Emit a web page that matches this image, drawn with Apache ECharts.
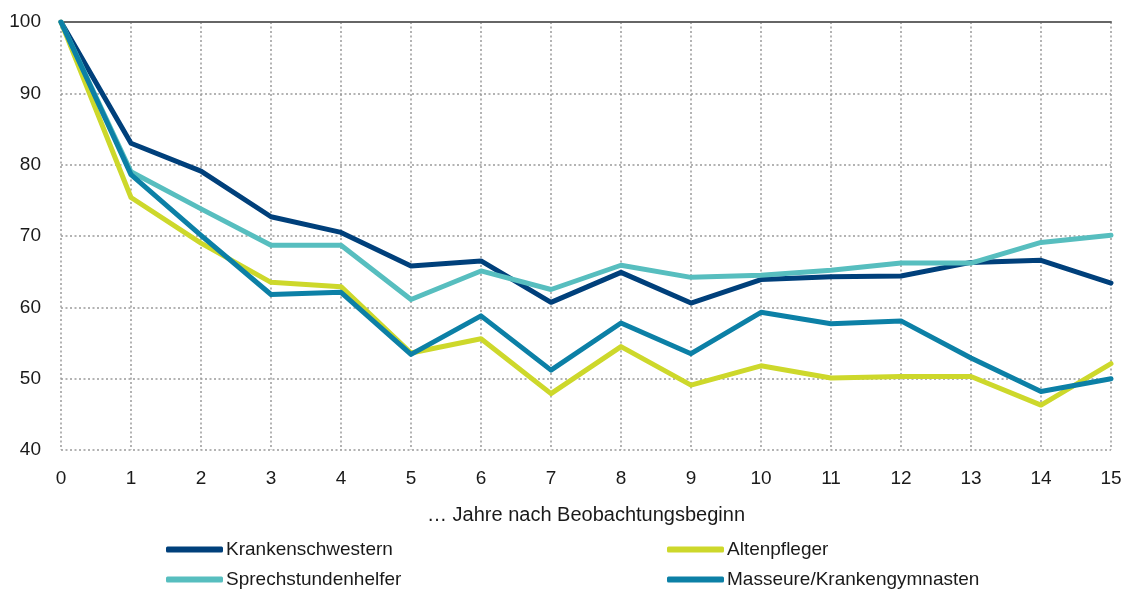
<!DOCTYPE html>
<html>
<head>
<meta charset="utf-8">
<script src="https://cdn.jsdelivr.net/npm/echarts@6/dist/echarts.min.js"></script>
<style>
  html, body { margin: 0; padding: 0; background: #fff; }
  #chart { width: 1126px; height: 589px; }
</style>
</head>
<body>
<div id="chart"></div>
<script>
    // Jahre nach Beobachtungsbeginn
    var years = [0, 1, 2, 3, 4, 5, 6, 7, 8, 9, 10, 11, 12, 13, 14, 15];

    var krankenschwestern = [100, 83.0, 79.1, 72.7, 70.5, 65.8, 66.5, 60.7, 64.9, 60.6, 63.9, 64.3, 64.4, 66.3, 66.6, 63.4];
    var altenpfleger = [100, 75.4, 69.0, 63.5, 62.9, 53.6, 55.6, 47.9, 54.5, 49.1, 51.8, 50.1, 50.3, 50.3, 46.3, 52.1];
    var sprechstundenhelfer = [100, 79.0, 73.8, 68.7, 68.7, 61.1, 65.1, 62.5, 65.9, 64.2, 64.5, 65.2, 66.2, 66.2, 69.1, 70.1];
    var masseure = [100, 78.6, 70.1, 61.8, 62.1, 53.4, 58.8, 51.2, 57.8, 53.5, 59.3, 57.7, 58.1, 52.9, 48.2, 50.0];

    var yTicks = [40, 50, 60, 70, 80, 90, 100];

    var FONT = '"Liberation Sans", Arial, sans-serif';
    var TEXT = '#1a1a1a';
    var GRID = '#9a9a9a';

    function pairs(values) {
        return values.map(function (v, i) { return [years[i], v]; });
    }

    function buildSeries(name, values, color) {
        return {
            name: name,
            type: 'line',
            data: pairs(values),
            showSymbol: false,
            symbol: 'none',
            lineStyle: { color: color, width: 5, cap: 'round', join: 'round' },
            itemStyle: { color: color },
            z: 3
        };
    }

    // one legend per item, laid out as two columns
    function buildLegend(left, top, name) {
        return {
            left: left,
            top: top,
            padding: 0,
            itemWidth: 57,
            itemHeight: 6,
            icon: 'roundRect',
            textStyle: { fontFamily: FONT, fontSize: 19, color: TEXT, padding: [0, 0, 0, -2] },
            data: [name]
        };
    }

    var chart = echarts.init(document.getElementById('chart'), null, { renderer: 'canvas' });

    chart.setOption({
        animation: false,
        grid: { left: 61, right: 15, top: 22, bottom: 139, containLabel: false },
        legend: [
            buildLegend(166, 540, 'Krankenschwestern'),
            buildLegend(166, 570, 'Sprechstundenhelfer'),
            buildLegend(667, 540, 'Altenpfleger'),
            buildLegend(667, 570, 'Masseure/Krankengymnasten')
        ],
        xAxis: [{
            type: 'value',
            min: 0,
            max: 15,
            interval: 1,
            name: '… Jahre nach Beobachtungsbeginn',
            nameLocation: 'middle',
            nameGap: 55,
            nameTextStyle: { fontFamily: FONT, fontSize: 20, color: TEXT },
            axisLine: { show: false },
            axisTick: { show: false },
            axisLabel: { fontFamily: FONT, fontSize: 19, color: TEXT, margin: 19 },
            splitLine: { show: true, lineStyle: { color: GRID, width: 1.5, type: [2, 2.5] } }
        }, {
            type: 'value',
            position: 'top',
            min: 0,
            max: 15,
            axisLine: { show: true, lineStyle: { color: '#666', width: 2 } },
            axisTick: { show: false },
            axisLabel: { show: false },
            splitLine: { show: false }
        }],
        yAxis: {
            type: 'value',
            min: yTicks[0],
            max: yTicks[yTicks.length - 1],
            interval: 10,
            axisLine: { show: false },
            axisTick: { show: false },
            axisLabel: { fontFamily: FONT, fontSize: 19, color: TEXT, margin: 20 },
            splitLine: { show: true, lineStyle: { color: GRID, width: 1.5, type: [2, 2.5] } }
        },
        series: [
            buildSeries('Krankenschwestern', krankenschwestern, '#00407B'),
            buildSeries('Altenpfleger', altenpfleger, '#CDD82B'),
            buildSeries('Sprechstundenhelfer', sprechstundenhelfer, '#57BEBF'),
            buildSeries('Masseure/Krankengymnasten', masseure, '#0C80A6')
        ]
    });
</script>
</body>
</html>
